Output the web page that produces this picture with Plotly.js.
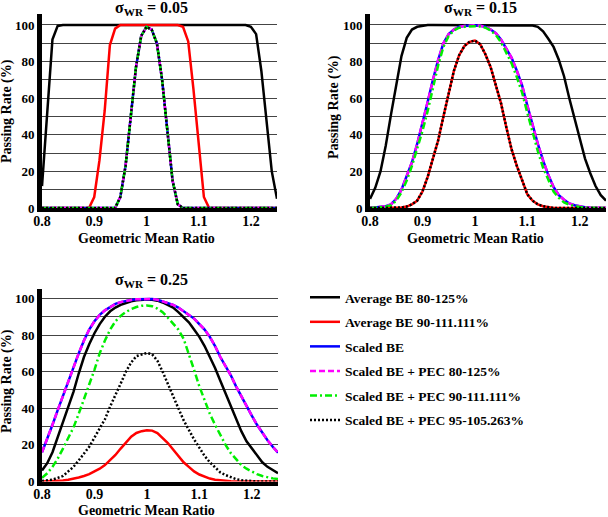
<!DOCTYPE html>
<html><head><meta charset="utf-8">
<script src="https://cdn.plot.ly/plotly-3.0.1.min.js"></script>
<style>html,body{margin:0;padding:0;background:#fff}</style>
</head><body><div id="chart" style="width:608px;height:517px"></div>
<script>
// Geometric mean ratio grid
const gmr = [0.80,0.81,0.82,0.83,0.84,0.85,0.86,0.87,0.88,0.89,0.90,0.91,0.92,0.93,0.94,0.95,0.96,0.97,0.98,0.99,1.00,1.01,1.02,1.03,1.04,1.05,1.06,1.07,1.08,1.09,1.10,1.11,1.12,1.13,1.14,1.15,1.16,1.17,1.18,1.19,1.20,1.21,1.22,1.23,1.24,1.25];

const seriesNames = ["Average BE 80-125%","Average BE 90-111.111%","Scaled BE","Scaled BE + PEC 80-125%","Scaled BE + PEC 90-111.111%","Scaled BE + PEC 95-105.263%"];
const panelTitles = ["0.05","0.15","0.25"];
const xTickVals = [0.8,0.9,1.0,1.1,1.2];
const xTickText = ["0.8","0.9","1","1.1","1.2"];
const yTickVals = [0,20,40,60,80,100];
const yTickText = ["0","20","40","60","80","100"];

// sigma_WR = 0.05
const s05_abe80 = [12,52,92,99.5,100,100,100,100,100,100,100,100,100,100,100,100,100,100,100,100,100,100,100,100,100,100,100,100,100,100,100,100,100,100,100,100,100,100,100,100,99,95,75,48,20,5];
const s05_abe90 = [0,0,0,0,0,0,0,0,0,0,6,26,53,89,98,100,100,100,100,100,100,100,100,100,100,100,100,99,91,65,34,6,0,0,0,0,0,0,0,0,0,0,0,0,0,0];
const s05_scaled = [0,0,0,0,0,0,0,0,0,0,0,0,0,0,0,6,23,50,77,94,99,97.5,90,70,42,15,2,0,0,0,0,0,0,0,0,0,0,0,0,0,0,0,0,0,0,0];
const s05_pec80 = [0,0,0,0,0,0,0,0,0,0,0,0,0,0,0,6,23,50,77,94,99,97.5,90,70,42,15,2,0,0,0,0,0,0,0,0,0,0,0,0,0,0,0,0,0,0,0];
const s05_pec90 = [0,0,0,0,0,0,0,0,0,0,0,0,0,0,0,6,23,50,77,94,99,97.5,90,70,42,15,2,0,0,0,0,0,0,0,0,0,0,0,0,0,0,0,0,0,0,0];
const s05_pec95 = [0,0,0,0,0,0,0,0,0,0,0,0,0,0,0,6,23,50,77,94,99,97.5,90,70,42,15,2,0,0,0,0,0,0,0,0,0,0,0,0,0,0,0,0,0,0,0];

// sigma_WR = 0.15
const s15_abe80 = [5,11,20,34,51,67,83,93,97.5,99,99.7,100,100,100,100,100,100,100,100,100,100,100,100,100,100,100,100,100,100,100,100,99.7,99,96.5,92.5,88,81,72,60,49,37,27,19,12,7,4];
const s15_abe90 = [0,0,0,0,0,0,0.3,0.8,2,4,9,17,27,37,50,63,75,83.5,88.5,90.8,91.5,89.5,84,77,66.5,57,44,32,23,15,7.5,4,2,1,0.3,0,0,0,0,0,0,0,0,0,0,0];
const s15_scaled = [0,0.2,0.5,1,2,5,10,17,25,35,46,58,70,81,90,95,97.5,99,99.5,99.8,99.8,99.6,99,97.5,95.5,92,87,82,75,67,56,45,35,26,18,11.5,7,4.5,2.5,1.5,0.8,0.4,0.2,0,0,0];
const s15_pec80 = [0,0.2,0.5,1,2,5,10,17,25,35,46,58,70,81,90,95,97.5,99,99.5,99.8,99.8,99.6,99,97.5,95.5,92,87,82,75,67,56,45,35,26,18,11.5,7,4.5,2.5,1.5,0.8,0.4,0.2,0,0,0];
const s15_pec90 = [0,0.1,0.3,0.7,1.5,4,8.5,15,23,32,42,53,66,78,88,94,97,98.5,99,99.3,99.3,99.2,98.5,97,94.5,90.5,85,79,71.5,63,52,41,31,22,15,9,5.5,3,1.8,1,0.5,0.2,0,0,0,0];
const s15_pec95 = [0,0,0,0,0,0,0.3,0.8,2,4,9,17,27,37,50,63,75,83.5,88.5,90.8,91.5,89.5,84,77,66.5,57,44,32,23,15,7.5,4,2,1,0.3,0,0,0,0,0,0,0,0,0,0,0];

// sigma_WR = 0.25
const s25_abe80 = [6,10,16,24,33,41,49,59,68,75,81,86,90,93,95,96.5,97.5,98.5,99,99.3,99.4,99.3,98.8,97.8,96.5,95,92.5,90,87,83,79,74,68,62,55,48,41,34,27.5,22,18,14,10.5,8,6,4.5];
const s25_abe90 = [0,0.1,0.2,0.4,0.6,1,1.5,2.2,3,4,5.5,7,9,11.5,14.5,18,21.5,24.5,26.5,27.5,28,27.8,26.5,24,21,17.5,14,10.5,8,5.5,3.8,2.5,1.6,1,0.6,0.3,0.1,0,0,0,0,0,0,0,0,0];
const s25_scaled = [16,23,31,39,47,55,62,70,77,83,87.5,91,93.5,95.5,97,98,98.7,99.2,99.5,99.7,99.8,99.7,99.3,98.5,97.5,96.5,95,93,91,89,86,83,79,74,68,63,58,52,46.5,41,36,31,26.5,22.5,19,15.7];
const s25_pec80 = [16,23,31,39,47,55,62,70,77,83,87.5,91,93.5,95.5,97,98,98.7,99.2,99.5,99.7,99.8,99.7,99.3,98.5,97.5,96.5,95,93,91,89,86,83,79,74,68,63,58,52,46.5,41,36,31,26.5,22.5,19,15.7];
const s25_pec90 = [2,4.5,8,12.5,18,24,29.5,37,44.5,53,61,70,77,83,87.5,90.5,92.6,94.2,95.3,96,96.2,95.8,94.5,92.5,89.5,86.5,83,78,70,61,52,44,37,31,25.5,20,15.5,12,9,7,5.5,4,3,2.2,1.7,1.3];
const s25_pec95 = [0.3,0.6,1,2,3,5.5,8,11.5,15,19,24,29,34,41,47,53.5,60,65,68.5,69.5,70.2,69.5,66,60,53,47,40,33.5,28,23,18.5,14,10.5,7.5,5,3.5,2.2,1.3,0.7,0.4,0.2,0,0,0,0,0];

const panels = [
  [s05_abe80,s05_abe90,s05_scaled,s05_pec80,s05_pec90,s05_pec95],
  [s15_abe80,s15_abe90,s15_scaled,s15_pec80,s15_pec90,s15_pec95],
  [s25_abe80,s25_abe90,s25_scaled,s25_pec80,s25_pec90,s25_pec95]
];
const styles = [
  {color:'#000000', dash:'solid', width:2.5},
  {color:'#ff0000', dash:'solid', width:2.5},
  {color:'#0000ff', dash:'solid', width:2.5},
  {color:'#ff00ff', dash:'6px,3px', width:2.5},
  {color:'#00ee00', dash:'7px,3px,2px,3px', width:2.5},
  {color:'#000000', dash:'2px,2px', width:2.5}
];

const FONT = 'Liberation Serif';
const W = 608, H = 517;
const px = v => v / W, py = v => 1 - v / H;

const traces = [];
panels.forEach((ser, p) => {
  const ax = p === 0 ? '' : String(p + 1);
  ser.forEach((vals, i) => {
    traces.push({
      type:'scatter', mode:'lines', x:gmr, y:vals,
      xaxis:'x'+ax, yaxis:'y'+ax,
      name:seriesNames[i], legendgroup:'g'+i,
      showlegend: p === 2,
      line:{color:styles[i].color, dash:styles[i].dash, width:styles[i].width},
      hoverinfo:'skip'
    });
  });
});

function xa(domain, anchor){
  return {domain, anchor, range:[0.8,1.25], tickvals:xTickVals, ticktext:xTickText,
    showgrid:false, zeroline:false, showline:true, linecolor:'#000', linewidth:4, ticks:'',
    ticklabelstandoff:-3,
    tickfont:{family:FONT,size:14,weight:'bold',color:'#000'}, fixedrange:true};
}
function ya(domain, anchor, top){
  return {domain, anchor, range:[0,top], tickvals:yTickVals, ticktext:yTickText,
    showgrid:true, gridcolor:'#444', gridwidth:1,
    minor:{dtick:10, tick0:0, showgrid:true, gridcolor:'#444', gridwidth:1, ticks:''},
    zeroline:false, showline:true,
    linecolor:'#000', linewidth:5, ticks:'',
    tickfont:{family:FONT,size:13,weight:'bold',color:'#000'}, fixedrange:true};
}

const annFont = s => ({family:FONT, size:s, weight:'bold', color:'#000'});
const annotations = [];
const titlePos = [[151,8],[480,8],[151,280]];
panelTitles.forEach((t,i)=>{
  annotations.push({xref:'paper',yref:'paper',x:px(titlePos[i][0]),y:py(titlePos[i][1]),
    xanchor:'center',yanchor:'middle',showarrow:false,
    text:'<b>σ<sub>WR</sub> = '+t+'</b>', font:annFont(16)});
});
[[146,238],[475,238],[146,510]].forEach(p=>{
  annotations.push({xref:'paper',yref:'paper',x:px(p[0]),y:py(p[1]),xanchor:'center',yanchor:'middle',
    showarrow:false,text:'<b>Geometric Mean Ratio</b>',font:annFont(14)});
});
[[7,111],[334,107],[7,381]].forEach(p=>{
  annotations.push({xref:'paper',yref:'paper',x:px(p[0]),y:py(p[1]),xanchor:'center',yanchor:'middle',
    showarrow:false,textangle:-90,text:'<b>Passing Rate (%)</b>',font:annFont(14)});
});

const layout = {
  width:W, height:H, margin:{l:0,r:0,t:0,b:0},
  paper_bgcolor:'#fff', plot_bgcolor:'#fff',
  font:{family:FONT},
  xaxis: xa([px(42),px(277)],'y'),
  yaxis: ya([py(208),py(14)],'x',106),
  xaxis2: xa([px(370),px(606)],'y2'),
  yaxis2: ya([py(208),py(14)],'x2',106),
  xaxis3: xa([px(42),px(278)],'y3'),
  yaxis3: ya([py(481.5),py(289.3)],'x3',105),
  showlegend:true,
  legend:{x:px(305),y:py(282),xanchor:'left',yanchor:'top',traceorder:'grouped',
    tracegroupgap:4, itemwidth:30, bgcolor:'rgba(0,0,0,0)',
    font:{family:FONT,size:13.5,weight:'bold',color:'#000'}},
  annotations
};

Plotly.newPlot('chart', traces, layout, {staticPlot:true, displayModeBar:false});
</script>
</body></html>
